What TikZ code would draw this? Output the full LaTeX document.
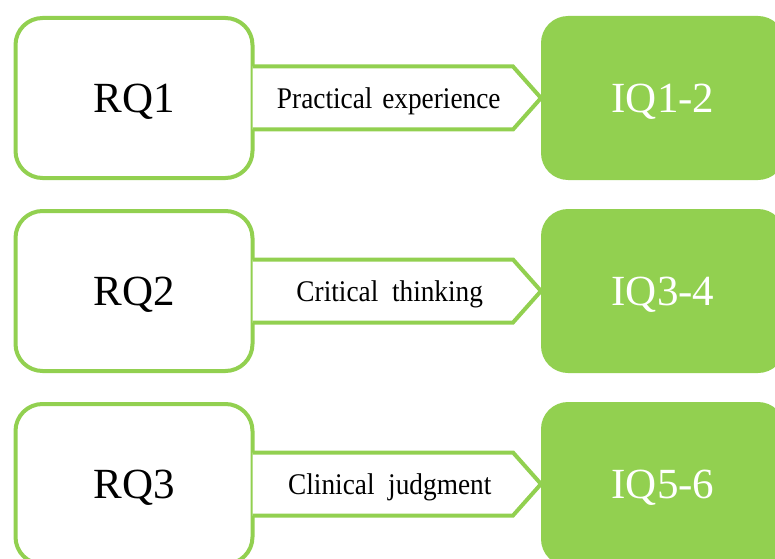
\documentclass[tikz,border=0pt]{standalone}
\usepackage{fontspec}
\setmainfont{Liberation Serif}
\newfontfamily\narrowfont[FakeStretch=0.91]{Liberation Serif}
\usepackage{tikz}
\usetikzlibrary{positioning,calc}
\definecolor{leaf}{HTML}{92D050}

\begin{document}
\begin{tikzpicture}[x=1pt,y=1pt,
  rq/.style={draw=leaf,line width=4pt,fill=white,rounded corners=27pt,
    minimum width=237pt,minimum height=160pt,outer sep=0pt,text depth=0pt,
    font=\fontsize{43}{48}\selectfont},
  iq/.style={fill=leaf,text=white,rounded corners=27pt,minimum width=244pt,
    minimum height=164pt,outer sep=0pt,text depth=0pt,
    font=\fontsize{43}{48}\selectfont},
  band/.style={draw=leaf,line width=4pt,fill=white,line join=miter},
  lab/.style={text depth=0pt,font=\narrowfont\fontsize{30}{32}\selectfont}]

  \useasboundingbox (0,0) rectangle (775,558);

  \def \h {31.5}
  \def \t {28}

  % row 1
  \def \y {460}
  \node[rq] (rq1) at (134,\y) {RQ1};
  \node[iq] (iq1) at (663,\y) {IQ1-2};
  \draw[band] ([yshift=\h pt]rq1.east) -- ([xshift=-\t pt,yshift=\h pt]iq1.west)
    -- (iq1.west) -- ([xshift=-\t pt,yshift=-\h pt]iq1.west) -- ([yshift=-\h pt]rq1.east);
  \node[lab] (lab1) at ($(rq1.east)!0.5!(iq1.west)+(-8,0)$) {Practical\hspace{0.1em} experience};

  % row 2
  \def \y {267}
  \node[rq] (rq2) at (134,\y) {RQ2};
  \node[iq] (iq2) at (663,\y) {IQ3-4};
  \draw[band] ([yshift=\h pt]rq2.east) -- ([xshift=-\t pt,yshift=\h pt]iq2.west)
    -- (iq2.west) -- ([xshift=-\t pt,yshift=-\h pt]iq2.west) -- ([yshift=-\h pt]rq2.east);
  \node[lab] (lab2) at ($(rq2.east)!0.5!(iq2.west)+(-7,0)$) {Critical\ \ thinking};

  % row 3
  \def \y {74}
  \node[rq] (rq3) at (134,\y) {RQ3};
  \node[iq] (iq3) at (663,\y) {IQ5-6};
  \draw[band] ([yshift=\h pt]rq3.east) -- ([xshift=-\t pt,yshift=\h pt]iq3.west)
    -- (iq3.west) -- ([xshift=-\t pt,yshift=-\h pt]iq3.west) -- ([yshift=-\h pt]rq3.east);
  \node[lab] (lab3) at ($(rq3.east)!0.5!(iq3.west)+(-7,0)$) {Clinical\ \ judgment};

\end{tikzpicture}
\end{document}
